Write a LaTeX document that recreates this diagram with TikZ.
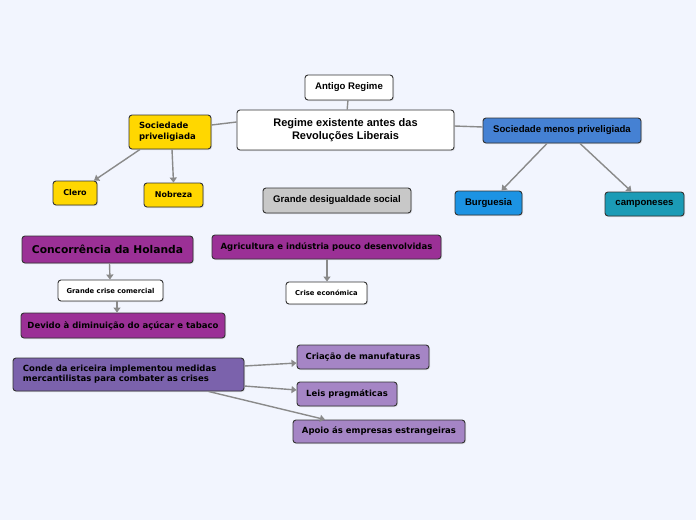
\documentclass[tikz,border=0pt]{standalone}
\usepackage{fontspec}
\setmainfont{Liberation Sans}
\newfontfamily\dejavu{DejaVu Sans}
\usetikzlibrary{arrows.meta}
\usetikzlibrary{shadows}

\definecolor{bgcol}{HTML}{F2F5FE}
\definecolor{linecol}{HTML}{8A8A8A}
\definecolor{yellowcol}{HTML}{FFD700}
\definecolor{greycol}{HTML}{C8C8C8}
\definecolor{bluecol}{HTML}{4581D3}
\definecolor{lbluecol}{HTML}{1C93E3}
\definecolor{tealcol}{HTML}{1B9BB6}
\definecolor{purplecol}{HTML}{9B3096}
\definecolor{violetcol}{HTML}{7B62AC}
\definecolor{lvioletcol}{HTML}{A585C5}

\begin{document}
\begin{tikzpicture}[x=1pt, y=-1pt,
    box/.style={draw=black!80, line width=0.9pt, rounded corners=3pt, inner sep=2pt,
      drop shadow={opacity=0.25, shadow xshift=1pt, shadow yshift=-1pt},
      font=\bfseries\fontsize{9.6}{11}\selectfont},
    small/.style={font=\dejavu\bfseries\fontsize{6.8}{8}\selectfont},
    link/.style={draw=linecol, line width=1.4pt},
    arrow/.style={link, -{Triangle[width=7pt, length=5pt]}}]
      \useasboundingbox[fill=bgcol] (0,0) rectangle (696,520);

      % top part
      \node[box, fill=white, minimum width=88pt, minimum height=25pt] (antigo) at (349,87.5) {Antigo Regime};
      \node[box, fill=white, minimum width=217pt, minimum height=40pt, align=center,
        font=\bfseries\fontsize{11}{13}\selectfont] (regime) at (345.5,130) {Regime existente antes das\\Revoluções Liberais};
      \node[box, fill=yellowcol, minimum width=82pt, minimum height=34pt, align=left, text width=62pt,
        font=\dejavu\bfseries\fontsize{8.5}{11}\selectfont] (socpriv) at (170,132) {Sociedade\\priveligiada};
      \node[box, fill=yellowcol, minimum width=44pt, minimum height=24pt, font=\dejavu\bfseries\fontsize{8}{10}\selectfont] (clero) at (75,193) {Clero};
      \node[box, fill=yellowcol, minimum width=59pt, minimum height=24pt, font=\dejavu\bfseries\fontsize{8}{10}\selectfont] (nobreza) at (173.5,195) {Nobreza};
      \node[box, fill=greycol, minimum width=148pt, minimum height=25pt] (desig) at (337,200.5) {Grande desigualdade social};
      \node[box, fill=bluecol, minimum width=158pt, minimum height=25pt] (socmenos) at (562,130.5) {Sociedade menos priveligiada};
      \node[box, fill=lbluecol, minimum width=67pt, minimum height=24pt] (burg) at (488.5,203) {Burguesia};
      \node[box, fill=tealcol, minimum width=79pt, minimum height=24pt] (camp) at (644.5,204) {camponeses};

      % crises
      \node[box, fill=purplecol, minimum width=171pt, minimum height=27pt, font=\dejavu\bfseries\fontsize{10.7}{13}\selectfont] (holanda) at (107.5,249.5) {Concorrência da Holanda};
      \node[box, fill=white, minimum width=105pt, minimum height=21pt, small] (comercial) at (110.5,290.5) {Grande crise comercial};
      \node[box, fill=purplecol, minimum width=204pt, minimum height=25pt, font=\dejavu\bfseries\fontsize{8.5}{10}\selectfont] (devido) at (123,325.5) {Devido à diminuição do açúcar e tabaco};
      \node[box, fill=purplecol, minimum width=229pt, minimum height=24pt, font=\dejavu\bfseries\fontsize{8.5}{10}\selectfont] (agric) at (326.5,247) {Agricultura e indústria pouco desenvolvidas};
      \node[box, fill=white, minimum width=81pt, minimum height=22pt, small] (economica) at (326.5,293) {Crise económica};

      % medidas
      \node[box, fill=violetcol, minimum width=231pt, minimum height=33pt, align=left, text width=211pt,
        font=\dejavu\bfseries\fontsize{8.5}{10}\selectfont] (conde) at (128.5,374.5) {Conde da ericeira implementou medidas\\mercantilistas para combater as crises};
      \node[box, fill=lvioletcol, minimum width=132pt, minimum height=24pt, font=\dejavu\bfseries\fontsize{8.5}{10}\selectfont] (criacao) at (363,357) {Criação de manufaturas};
      \node[box, fill=lvioletcol, minimum width=100pt, minimum height=24pt, font=\dejavu\bfseries\fontsize{8.5}{10}\selectfont] (leis) at (347,394) {Leis pragmáticas};
      \node[box, fill=lvioletcol, minimum width=172pt, minimum height=23pt, font=\dejavu\bfseries\fontsize{8.5}{10}\selectfont] (apoio) at (379,431.5) {Apoio ás empresas estrangeiras};

      \draw[link] (antigo) -- (regime);
      \draw[link] ([yshift=7pt]socpriv.east) -- ([yshift=8pt]regime.west);
      \draw[link] ([yshift=4pt]regime.east) -- ([yshift=3.5pt]socmenos.west);
      \draw[arrow] ([xshift=-30pt]socpriv.south) -- ([xshift=19pt]clero.north);
      \draw[arrow] ([xshift=2pt]socpriv.south) -- (nobreza.north);
      \draw[arrow] ([xshift=-15pt]socmenos.south) -- ([xshift=13pt]burg.north);
      \draw[arrow] ([xshift=18pt]socmenos.south) -- ([xshift=-13pt]camp.north);
      \draw[arrow] ([xshift=2pt]holanda.south) -- ([xshift=-0.5pt]comercial.north);
      \draw[arrow] ([xshift=6.5pt]comercial.south) -- ([xshift=-6pt]devido.north);
      \draw[arrow] ([xshift=0.5pt]agric.south) -- ([xshift=0.5pt]economica.north);
      \draw[arrow] ([yshift=8.5pt]conde.east) -- ([yshift=-6pt]criacao.west);
      \draw[arrow] ([yshift=-11.5pt]conde.east) -- ([yshift=4pt]leis.west);
      \draw[arrow] ([xshift=80pt]conde.south) -- ([xshift=-54pt]apoio.north);
    \end{tikzpicture}
\end{document}
